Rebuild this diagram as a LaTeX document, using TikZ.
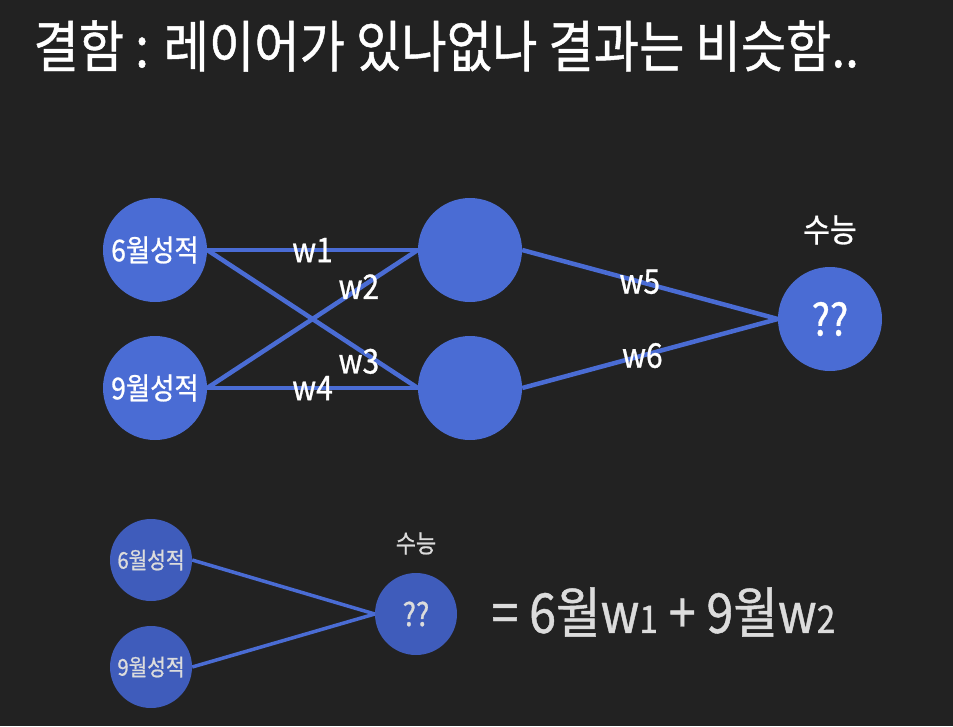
\documentclass[tikz,border=0pt]{standalone}
\usepackage{fontspec}
\setmainfont{Noto Sans CJK KR}[FakeStretch=0.88, FakeBold=0.8]
\usetikzlibrary{positioning}
\definecolor{slidebg}{HTML}{222222}
\definecolor{neuronblue}{HTML}{4A6CD4}
\definecolor{neurondark}{HTML}{3F5CBB}
\definecolor{softwhite}{HTML}{DCDCDC}
\tikzset{
  neuron/.style={circle, fill=neuronblue, draw=none, minimum size=104pt, inner sep=0pt, text=white, font=\fontsize{30}{32}\selectfont},
  smallneuron/.style={neuron, fill=neurondark, minimum size=82pt, text=softwhite, font=\fontsize{23}{25}\selectfont},
  link/.style={neuronblue, line width=4.5pt},
  smalllink/.style={link, line width=3.5pt},
  weight/.style={text=white, font=\fontsize{34}{36}\selectfont, inner sep=0pt},
  caption/.style={text=white, font=\fontsize{33}{35}\selectfont, inner sep=0pt}
}
\newcommand{\subw}[1]{{\fontsize{38}{40}\selectfont #1}}

\begin{document}
\begin{tikzpicture}[x=1pt, y=-1pt]
  \fill[slidebg] (0,0) rectangle (953,726);
  \node[anchor=west, text=white, font=\fontsize{56}{58}\selectfont] (title) at (30,46) {결함 : 레이어가 있나없나 결과는 비슷함..};

  % layered network
  \node[neuron] (june) at (155,250) {6월성적};
  \node[neuron] (sept) at (155,388) {9월성적};
  \node[neuron] (hidA) at (470,250) {};
  \node[neuron] (hidB) at (470,388) {};
  \node[neuron, font=\fontsize{44}{46}\selectfont] (exam) at (830,319) {??};
  \node[caption, above=22pt of exam] (examlbl) {수능};
  \draw[link] (june.east) -- node[weight, pos=0.5] {w1} (hidA.west);
  \draw[link] (sept.east) -- node[weight, pos=0.72, yshift=2pt] {w2} (hidA.west);
  \draw[link] (june.east) -- node[weight, pos=0.72, yshift=-12pt] {w3} (hidB.west);
  \draw[link] (sept.east) -- node[weight, pos=0.5] {w4} (hidB.west);
  \draw[link] (hidA.east) -- node[weight, pos=0.46] {w5} (exam.west);
  \draw[link] (hidB.east) -- node[weight, pos=0.47] {w6} (exam.west);

  % single layer
  \node[smallneuron] (juneS) at (151,560) {6월성적};
  \node[smallneuron] (septS) at (151,667) {9월성적};
  \node[smallneuron, font=\fontsize{32}{34}\selectfont] (examS) at (416,614) {??};
  \node[caption, text=softwhite, font=\fontsize{25}{27}\selectfont, above=18pt of examS] (examSlbl) {수능};
  \draw[smalllink] (juneS.east) -- (examS.west);
  \draw[smalllink] (septS.east) -- (examS.west);
  \node[anchor=west, text=softwhite, font=\fontsize{55}{57}\selectfont] (formula) at (488,612) {= 6월w\subw{1} + 9월w\subw{2}};
\end{tikzpicture}
\end{document}
